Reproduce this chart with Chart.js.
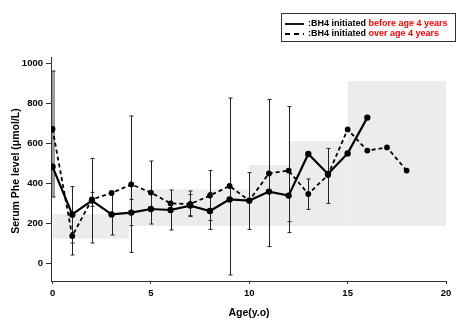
<!DOCTYPE html>
<html>
<head>
<meta charset="utf-8">
<script src="https://cdn.jsdelivr.net/npm/chart.js@4.4.1/dist/chart.umd.min.js"></script>
<style>
  html, body { margin: 0; padding: 0; background: #fff; }
</style>
</head>
<body>
<canvas id="pheChart" width="457" height="320"></canvas>
<script>
// BH4 initiated before age 4 years (solid)
const beforeAge = [0, 1, 2, 3, 4, 5, 6, 7, 8, 9, 10, 11, 12, 13, 14, 15, 16];
const beforePhe = [481, 243, 312, 243, 252, 270, 265, 287, 260, 318, 312, 357, 337, 545, 445, 548, 727];
const beforeLow = [330, 100, 100, 140, 187, null, 165, 232, 168, null, 168, null, 207, null, 298, null, null];
const beforeHigh = [960, 382, 523, 357, 318, null, 365, 342, 352, null, 452, null, 467, null, 573, null, null];

// BH4 initiated over age 4 years (dashed)
const overAge = [0, 1, 2, 3, 4, 5, 6, 7, 8, 9, 10, 11, 12, 13, 14, 15, 16, 17, 18];
const overPhe = [670, 135, 318, 350, 393, 352, 298, 295, 337, 385, 312, 448, 462, 345, 440, 668, 562, 578, 462];
const overLow = [null, 40, 283, null, 53, 195, null, 237, 212, -60, null, 82, 152, 268, null, null, null, null, null];
const overHigh = [null, 230, 353, null, 735, 510, null, 360, 462, 825, null, 818, 782, 420, null, null, null, null, null];

// target range bands (age from/to, Phe low/high)
const bandStart = [0, 3.9, 10, 12, 15];
const bandEnd = [3.9, 10, 12, 15, 20];
const bandLow = [122, 185, 185, 185, 185];
const bandHigh = [245, 368, 490, 610, 910];

const xTicks = [0, 5, 10, 15, 20];
const yTicks = [0, 200, 400, 600, 800, 1000];

const tickFont = "'Liberation Sans Narrow', 'Arial Narrow', Arial, sans-serif";
const textFont = "Arial, 'Liberation Sans', sans-serif";

function toPoints(xs, ys) {
    return xs.map((x, i) => ({ x: x, y: ys[i] }));
}

const extras = {
    id: "extras",
    beforeDatasetsDraw(chart) {
        const { ctx, scales: { x, y } } = chart;
        ctx.save();
        // bands
        ctx.fillStyle = "#ececec";
        for (let i = 0; i < bandStart.length; i++) {
            const x0 = x.getPixelForValue(bandStart[i]);
            const x1 = x.getPixelForValue(bandEnd[i]);
            const y0 = y.getPixelForValue(bandHigh[i]);
            const y1 = y.getPixelForValue(bandLow[i]);
            ctx.fillRect(x0, y0, x1 - x0, y1 - y0);
        }
        // error bars
        const drawErr = (xs, lows, highs) => {
            xs.forEach((age, i) => {
                if (lows[i] == null) return;
                const px = Math.round(x.getPixelForValue(age)) + 0.5;
                const top = y.getPixelForValue(highs[i]);
                const bot = y.getPixelForValue(lows[i]);
                if (age === 0) {
                    ctx.strokeStyle = "#9a9a9a";
                    ctx.lineWidth = 3;
                } else {
                    ctx.strokeStyle = "#222";
                    ctx.lineWidth = 1;
                }
                ctx.beginPath();
                ctx.moveTo(px, top);
                ctx.lineTo(px, bot);
                ctx.stroke();
                ctx.lineWidth = 1;
                ctx.strokeStyle = "#222";
                ctx.beginPath();
                ctx.moveTo(px - 2, top);
                ctx.lineTo(px + 2, top);
                ctx.moveTo(px - 2, bot);
                ctx.lineTo(px + 2, bot);
                ctx.stroke();
            });
        };
        drawErr(beforeAge, beforeLow, beforeHigh);
        drawErr(overAge, overLow, overHigh);
        ctx.restore();
    },
    afterDraw(chart) {
        const ctx = chart.ctx;
        ctx.save();
        ctx.fillStyle = "#000";

        // axis titles
        ctx.font = "bold 10.5px " + textFont;
        ctx.textAlign = "center";
        ctx.textBaseline = "middle";
        ctx.fillText("Age(y.o)", 249, 313);
        ctx.save();
        ctx.translate(16, 171);
        ctx.rotate(-Math.PI / 2);
        ctx.fillText("Serum Phe level (μmol/L)", 0, 0);
        ctx.restore();

        // legend box
        ctx.strokeStyle = "#333";
        ctx.lineWidth = 1;
        ctx.strokeRect(281.5, 13.5, 174, 28);

        ctx.lineWidth = 1.8;
        ctx.strokeStyle = "#000";
        ctx.beginPath();
        ctx.moveTo(285, 24);
        ctx.lineTo(304, 24);
        ctx.stroke();
        ctx.setLineDash([5, 4]);
        ctx.beginPath();
        ctx.moveTo(285, 34);
        ctx.lineTo(304, 34);
        ctx.stroke();
        ctx.setLineDash([]);

        ctx.font = "bold 9px " + textFont;
        ctx.textAlign = "left";
        const rows = [["before age 4 years", 24], ["over age 4 years", 34]];
        rows.forEach(([red, ty]) => {
            const lead = ":BH4 initiated ";
            ctx.fillStyle = "#000";
            ctx.fillText(lead, 308, ty);
            ctx.fillStyle = "#ff0000";
            ctx.fillText(red, 308 + ctx.measureText(lead).width, ty);
        });
        ctx.restore();
    }
};

const canvas = document.getElementById("pheChart");

new Chart(canvas, {
    type: "line",
    data: {
        datasets: [
            {
                label: "BH4 initiated before age 4 years",
                data: toPoints(beforeAge, beforePhe),
                borderColor: "#000",
                backgroundColor: "#000",
                borderWidth: 2.2,
                pointRadius: 2.1,
                pointBackgroundColor: "#000",
                tension: 0,
            },
            {
                label: "BH4 initiated over age 4 years",
                data: toPoints(overAge, overPhe),
                borderColor: "#000",
                backgroundColor: "#000",
                borderWidth: 1.8,
                borderDash: [4, 3],
                pointRadius: 2,
                pointBackgroundColor: "#000",
                tension: 0,
            },
        ],
    },
    options: {
        responsive: false,
        animation: false,
        layout: { padding: { left: 0, right: 11, top: 57, bottom: 0 } },
        plugins: {
            legend: { display: false },
            tooltip: { enabled: false },
        },
        scales: {
            x: {
                type: "linear",
                min: -0.08,
                max: 20,
                afterFit: (s) => { s.height = 39; },
                afterBuildTicks: (s) => { s.ticks = xTicks.map(v => ({ value: v })); },
                grid: { drawOnChartArea: false, drawTicks: true, tickLength: 3, color: "#333" },
                border: { display: true, color: "#333", width: 1 },
                ticks: {
                    color: "#000",
                    padding: 4,
                    maxRotation: 0,
                    callback: (v) => String(v),
                    font: { family: tickFont, size: 9.5, weight: "bold" },
                },
            },
            y: {
                min: -90,
                max: 1030,
                afterFit: (s) => { s.width = 51; },
                afterBuildTicks: (s) => { s.ticks = yTicks.map(v => ({ value: v })); },
                grid: { drawOnChartArea: false, drawTicks: true, tickLength: 5, color: "#333" },
                border: { display: true, color: "#333", width: 1 },
                ticks: {
                    color: "#000",
                    padding: 3,
                    callback: (v) => String(v),
                    font: { family: tickFont, size: 9.5, weight: "bold" },
                },
            },
        },
    },
    plugins: [extras],
});
</script>
</body>
</html>
